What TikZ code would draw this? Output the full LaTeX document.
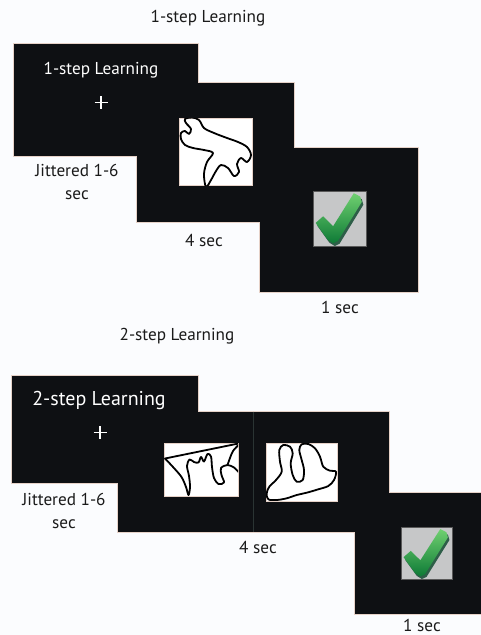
\documentclass[tikz,border=0pt]{standalone}
\usepackage{fontspec}
\setmainfont{PT Sans}
\definecolor{page}{HTML}{FBFCFE}
\definecolor{screen}{HTML}{0E1013}
\definecolor{rim}{HTML}{E6D2C8}
\definecolor{ink}{HTML}{1A1A1A}
\definecolor{seam}{HTML}{2A3433}
\definecolor{tilegray}{HTML}{C6C7C8}
\definecolor{tickdark}{HTML}{2E5E48}
\definecolor{ticklight}{HTML}{6FD070}
\definecolor{tickdeep}{HTML}{0E7A36}

% green tick on a grey tile, drawn in the unit square of the current scope
\newcommand\drawoktile{%
  \fill[tilegray] (0,0) rectangle (1,1);
  \draw[black!65, line width=0.6pt] (0,0) rectangle (1,1);
  \fill[tickdark] ([shift={(0.03,0.05)}]0.05,0.58) -- ++(0.14,-0.12) -- ++(0.19,0.18)
     -- ++(0.39,-0.60) -- ++(0.12,0.06) -- ++(0.03,0.10) -- ++(-0.45,0.71)
     -- ++(-0.09,0.04) -- ++(-0.10,-0.06) -- cycle;
  \shade[top color=ticklight, bottom color=tickdeep] (0.05,0.58) -- ++(0.14,-0.12) -- ++(0.19,0.18)
     -- ++(0.39,-0.60) -- ++(0.12,0.06) -- ++(0.03,0.10) -- ++(-0.45,0.71)
     -- ++(-0.09,0.04) -- ++(-0.10,-0.06) -- cycle;
}

\begin{document}
\begin{tikzpicture}[x=1pt, y=-1pt,
  panel/.style={fill=screen, draw=rim, line width=0.7pt},
  picbox/.style={fill=white, draw=rim, line width=0.6pt},
  squiggle/.style={draw=black, line width=1.8pt, line join=round, line cap=round},
  lbl/.style={font=\fontsize{17.2}{20}\selectfont, text=ink, anchor=base, inner sep=0pt},
  onscreen/.style={lbl, text=white},
  crossbar/.style={draw=white, line width=1.3pt}]

\fill[page] (0,0) rectangle (481,635);
\useasboundingbox (0,0) rectangle (481,635);

% ---------- one-step trial ----------
\node[lbl] (title1) at (208,22) {1-step Learning};

\draw[panel] (13,43) -- (198,43) -- (198,82) -- (294,82) -- (294,147) -- (418,147)
  -- (418,292) -- (259,292) -- (259,222) -- (136,222) -- (136,156) -- (13,156) -- cycle;

\node[onscreen] (cue1) at (101,74) {1-step Learning};
\draw[crossbar] (94.5,102.5) -- (107.5,102.5) (101,96) -- (101,109);

\draw[picbox] (179,118) rectangle (252,185);
\begin{scope}
  \clip (179,118) rectangle (252,185);
  \draw[squiggle] plot[smooth cycle, tension=0.55] coordinates {
    (206,187) (204,174) (207,162) (213,153) (204,150) (193,148) (185,145) (181,139)
    (181,133) (185,131) (189,134) (191,129) (186,123) (185,119) (192,117.5) (199,120)
    (204,128) (214,133) (227,138) (238,142) (247,147) (251,155) (247,162) (241,158)
    (237,164) (239,172) (234,176) (228,168) (221,165) (216,171) (211,180)};
\end{scope}

\begin{scope}[shift={(313,191)}, x=53pt, y=-55pt]
  \drawoktile
\end{scope}

\node[lbl] (jit1a) at (77,176.5) {Jittered 1-6};
\node[lbl] (jit1b) at (77,199) {sec};
\node[lbl] (dur1) at (204,246) {4 sec};
\node[lbl] (fb1) at (340,313) {1 sec};

% ---------- two-step trial ----------
\node[lbl] (title2) at (177,340.5) {2-step Learning};

\draw[panel] (11,375) -- (198,375) -- (198,411) -- (389,411) -- (389,492) -- (483,492)
  -- (483,614) -- (354,614) -- (354,532) -- (117,532) -- (117,483) -- (11,483) -- cycle;
\draw[seam, line width=0.6pt] (253,411.5) -- (253,531.5);

\node[onscreen, font=\fontsize{20}{23}\selectfont] (cue2) at (99,405) {2-step Learning};
\draw[crossbar] (93.5,432.5) -- (106.5,432.5) (100,426) -- (100,439);

\draw[picbox] (164,443) rectangle (238,496);
\begin{scope}
  \clip (164,443) rectangle (238,496);
  \draw[squiggle] (238.5,443.5) -- (165,458.5)
    plot[smooth, tension=0.55] coordinates {
    (165,458.5) (173,467) (181.5,477) (186,487) (188.5,495) (190,487) (189,476)
    (187,466) (189.5,459.5) (194,462) (198.5,462.5) (201,457) (204,461.5) (207.5,454)
    (211,456.5) (212,467) (214,478) (218.5,484) (224,482.5) (221.5,475) (221,468)
    (227.5,465) (234,467.5) (238.5,472)};
  \draw[squiggle] plot[smooth, tension=0.55] coordinates {
    (227.5,465) (230,458) (233,451) (238.5,445)};
\end{scope}

\draw[picbox] (266,443) rectangle (337,501);
\begin{scope}
  \clip (266,443) rectangle (337,501);
  \draw[squiggle] plot[smooth cycle, tension=0.55] coordinates {
    (268.3,499.3) (276.7,500) (286.7,498.3) (296.7,495) (306.7,492.7) (318.3,489.3)
    (328.3,486) (334,480) (336,471.7) (330,470.7) (323.3,466.7) (320,456.7)
    (315,448.3) (308.3,444) (301.7,444.3) (299.3,450) (301.7,460) (304,470)
    (302.7,480) (296.7,481.7) (292.7,475) (290.7,463.3) (292.7,453.3) (290,446.7)
    (283.3,445) (279.3,450) (280,461.7) (281.7,471.7) (276,480) (269.3,486.7)
    (266.7,493.3)};
\end{scope}

\begin{scope}[shift={(401,527)}, x=51pt, y=-52pt]
  \drawoktile
\end{scope}

\node[lbl] (jit2a) at (64,505) {Jittered 1-6};
\node[lbl] (jit2b) at (64,528) {sec};
\node[lbl] (dur2) at (258,553) {4 sec};
\node[lbl] (fb2) at (422,631) {1 sec};

\end{tikzpicture}
\end{document}
